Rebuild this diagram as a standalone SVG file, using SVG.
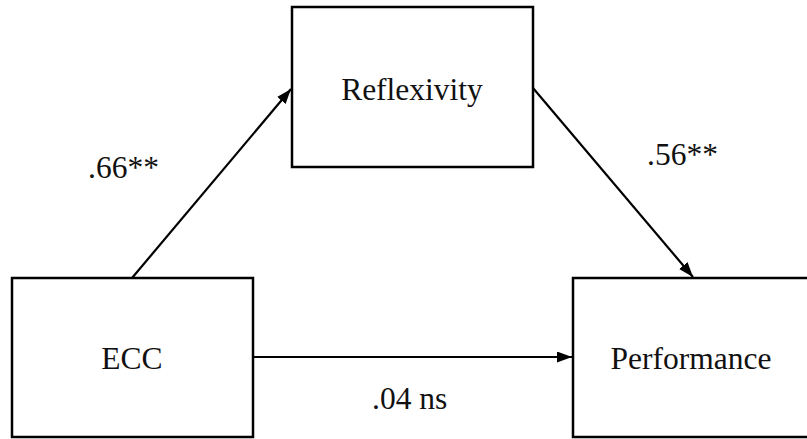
<svg xmlns="http://www.w3.org/2000/svg" width="807" height="439" viewBox="0 0 807 439">
<style>
.box{fill:#fff;stroke:#000;stroke-width:2.5}
.lbl{font-family:"Liberation Serif","Times New Roman",serif;font-size:31.5px;fill:#111}
.edge{stroke:#000;stroke-width:2.2;fill:none}
</style>
<defs>
<marker id="ah" viewBox="0 0 15 11" refX="15" refY="5.5" markerWidth="15" markerHeight="11" markerUnits="userSpaceOnUse" orient="auto">
<path d="M0,0 L15,5.5 L0,11 z" fill="#000"/>
</marker>
</defs>
<rect width="807" height="439" fill="#fff"/>
<g id="connectors">
<line class="edge" x1="132" y1="278" x2="291" y2="89" marker-end="url(#ah)"/>
<line class="edge" x1="533" y1="88" x2="693" y2="277" marker-end="url(#ah)"/>
<line class="edge" x1="253" y1="357" x2="572" y2="357" marker-end="url(#ah)"/>
</g>
<g id="reflexivity">
<rect class="box" x="292" y="7" width="241" height="160"/>
<text class="lbl" x="412" y="100" text-anchor="middle">Reflexivity</text>
</g>
<g id="ecc">
<rect class="box" x="12" y="278" width="241" height="159"/>
<text class="lbl" x="132" y="369" text-anchor="middle">ECC</text>
</g>
<g id="performance">
<rect class="box" x="573" y="278" width="245" height="159"/>
<text class="lbl" x="691" y="369" text-anchor="middle">Performance</text>
</g>
<g id="labels">
<text class="lbl" x="88" y="178">.66**</text>
<text class="lbl" x="647" y="165">.56**</text>
<text class="lbl" x="372" y="409">.04 ns</text>
</g>
</svg>
